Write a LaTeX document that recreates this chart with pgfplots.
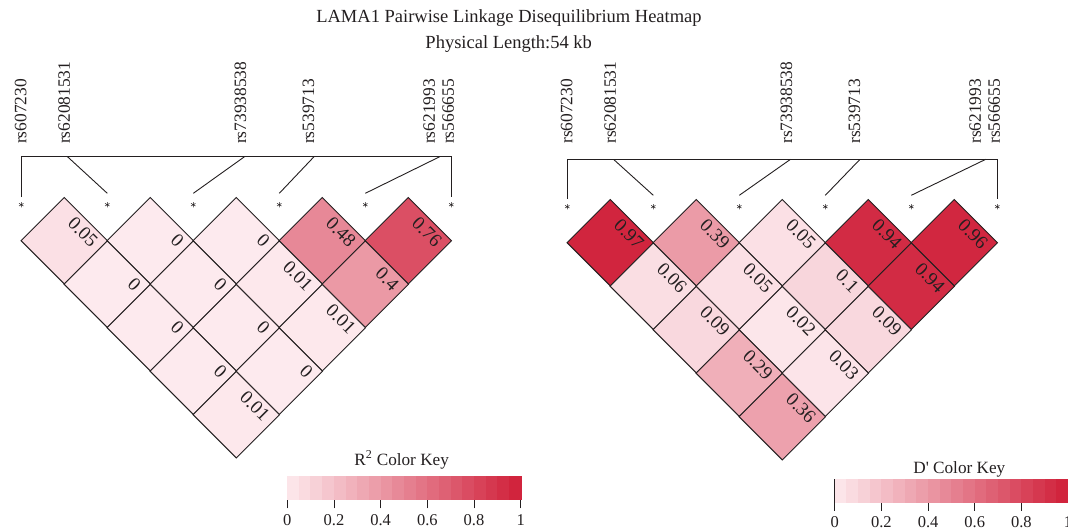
\documentclass[border=0pt]{standalone}
\usepackage{fontspec}
\setmainfont{Liberation Serif}
\usepackage{pgfplots}
\pgfplotsset{compat=1.18}
\usepackage{pgfplotstable}
\pgfkeys{/pgf/number format/assume math mode=true}

% R^2 values: pair (i,j) of SNPs 0..5
\pgfplotstableread{
i j v
0 1 0.05
1 2 0
2 3 0
3 4 0.48
4 5 0.76
0 2 0
1 3 0
2 4 0.01
3 5 0.4
0 3 0
1 4 0
2 5 0.01
0 4 0
1 5 0
0 5 0.01
}\rsq

% D' values
\pgfplotstableread{
i j v
0 1 0.97
1 2 0.39
2 3 0.05
3 4 0.94
4 5 0.96
0 2 0.06
1 3 0.05
2 4 0.1
3 5 0.94
0 3 0.09
1 4 0.02
2 5 0.09
0 4 0.29
1 5 0.03
0 5 0.36
}\dprime

\definecolor{ink}{RGB}{35,31,32}

\pgfplotsset{
  ldpanel/.style={
    scale only axis, x=43pt, y=43.5pt,
    xmin=-0.45, xmax=10.5, ymin=-6.05, ymax=1.6,
    hide axis, clip=false,
    colormap={ldmap}{rgb255=(253,234,238) rgb255=(208,32,58)},
    point meta min=0, point meta max=1,
  },
  keyaxis/.style={
    scale only axis, width=233.4pt, height=22.6pt,
    xmin=0, xmax=1, ymin=0, ymax=1, axis on top,
    colormap={ldmap}{rgb255=(253,234,238) rgb255=(208,32,58)},
    point meta min=0, point meta max=1,
    xtick={0,0.2,0.4,0.6,0.8,1}, ytick=\empty,
    xtick pos=left, tick align=outside, major tick length=9pt,
    axis line style={ink, line width=0.9pt},
    every tick/.style={ink, line width=0.9pt},
    /pgf/number format/assume math mode=true,
    xticklabel style={font=\fontsize{16.5}{18}\selectfont, text=ink, yshift=-2.5pt},
  },
  keybands/.style={
    scatter, only marks, mark=square*, mark size=5.835pt, point meta=x,
    scatter/use mapped color={draw=mapped color, fill=mapped color},
    mark options={yscale=1.95, line width=0.3pt},
  },
}

\newcommand{\snp}[3]{\node[rotate=90, anchor=base west, inner sep=0pt, text=ink,
  font=\fontsize{17.4}{20}\selectfont] at (axis cs:#1,#2) {#3};}

\newcommand{\ldcells}[1]{%
\addplot[scatter, only marks, mark=square*, mark size=30.55pt,
    point meta=explicit,
    scatter/use mapped color={draw=ink, fill=mapped color},
    mark options={rotate=45, line width=0.9pt}]
  table[x expr=\thisrow{i}+\thisrow{j}, y expr=\thisrow{i}-\thisrow{j}, meta=v] {#1};
\addplot[only marks, mark=*, mark size=0.1pt,
    mark options={draw opacity=0, fill opacity=0},
    point meta=explicit,
    nodes near coords={\pgfmathprintnumber[fixed,precision=2]{\pgfplotspointmeta}},
    every node near coord/.style={inner sep=0pt, text=ink,
      draw opacity=1, fill opacity=1, text opacity=1,
      font=\fontsize{19}{21}\selectfont,
      xshift=30.5pt, yshift=-3.3pt, rotate=-45, anchor=east}]
  table[x expr=\thisrow{i}+\thisrow{j}, y expr=\thisrow{i}-\thisrow{j}, meta=v] {#1};
}

\newcommand{\keycoords}{(0.025,0.5) (0.075,0.5) (0.125,0.5) (0.175,0.5) (0.225,0.5)
  (0.275,0.5) (0.325,0.5) (0.375,0.5) (0.425,0.5) (0.475,0.5)
  (0.525,0.5) (0.575,0.5) (0.625,0.5) (0.675,0.5) (0.725,0.5)
  (0.775,0.5) (0.825,0.5) (0.875,0.5) (0.925,0.5) (0.975,0.5)}

\begin{document}
\begin{tikzpicture}

\node[anchor=base, text=ink, font=\fontsize{18.5}{22}\selectfont] at (509pt,508.3pt) {LAMA1 Pairwise Linkage Disequilibrium Heatmap};
\node[anchor=base, text=ink, font=\fontsize{18.5}{22}\selectfont] at (508.7pt,482.7pt) {Physical Length:54 kb};

% ---------- left: R^2 ----------
\begin{axis}[ldpanel, at={(1.95pt,70.6pt)}, anchor=south west]
\ldcells{\rsq}
\addplot[only marks, mark=asterisk, mark size=2.6pt, ink, mark options={line width=0.5pt}] coordinates {(0,-0.172) (2,-0.172) (4,-0.172) (6,-0.172) (8,-0.172) (10,-0.172)};
\addplot[ink, line width=0.9pt, mark=none] coordinates {(0,0) (0,0.931) (10,0.931) (10,0)};
\addplot[ink, line width=0.9pt, mark=none] coordinates {(1.075,0.931) (2,0.09)};
\addplot[ink, line width=0.9pt, mark=none] coordinates {(5.19,0.931) (4,0.09)};
\addplot[ink, line width=0.9pt, mark=none] coordinates {(6.807,0.931) (6,0.09)};
\addplot[ink, line width=0.9pt, mark=none] coordinates {(9.73,0.931) (8,0.09)};
\snp{0.12}{1.223}{rs607230}
\snp{1.13}{1.223}{rs62081531}
\snp{5.23}{1.223}{rs73938538}
\snp{6.81}{1.223}{rs539713}
\snp{9.62}{1.223}{rs621993}
\snp{10.06}{1.223}{rs566655}
\end{axis}

% ---------- right: D' ----------
\begin{axis}[ldpanel, at={(547.95pt,68.6pt)}, anchor=south west]
\ldcells{\dprime}
\addplot[only marks, mark=asterisk, mark size=2.6pt, ink, mark options={line width=0.5pt}] coordinates {(0,-0.172) (2,-0.172) (4,-0.172) (6,-0.172) (8,-0.172) (10,-0.172)};
\addplot[ink, line width=0.9pt, mark=none] coordinates {(0,0) (0,0.917) (10,0.917) (10,0)};
\addplot[ink, line width=0.9pt, mark=none] coordinates {(1.075,0.917) (2,0.09)};
\addplot[ink, line width=0.9pt, mark=none] coordinates {(5.19,0.917) (4,0.09)};
\addplot[ink, line width=0.9pt, mark=none] coordinates {(6.807,0.917) (6,0.09)};
\addplot[ink, line width=0.9pt, mark=none] coordinates {(9.73,0.917) (8,0.09)};
\snp{0.12}{1.27}{rs607230}
\snp{1.13}{1.27}{rs62081531}
\snp{5.23}{1.27}{rs73938538}
\snp{6.81}{1.27}{rs539713}
\snp{9.62}{1.27}{rs621993}
\snp{10.06}{1.27}{rs566655}
\end{axis}

% ---------- colour keys ----------
\begin{axis}[keyaxis, at={(287.3pt,31.7pt)}, anchor=south west]
\addplot[keybands] coordinates {\keycoords};
\end{axis}
\begin{axis}[keyaxis, at={(834.7pt,29.3pt)}, anchor=south west]
\addplot[keybands] coordinates {\keycoords};
\end{axis}

\node[anchor=base, text=ink, font=\fontsize{17.2}{20}\selectfont] at (401.7pt,66pt) {R\textsuperscript{2} Color Key};
\node[anchor=base, text=ink, font=\fontsize{17.2}{20}\selectfont] at (959.3pt,57.7pt) {D\textquotesingle\ Color Key};

\pgfresetboundingbox
\useasboundingbox (0pt,0pt) rectangle (1068pt,531pt);
\end{tikzpicture}
\end{document}
